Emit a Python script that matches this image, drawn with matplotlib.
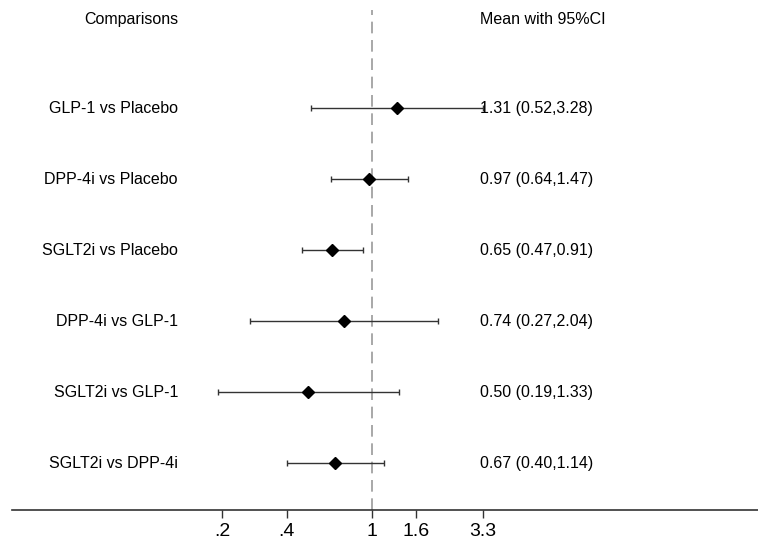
import numpy as np
import matplotlib
matplotlib.use("Agg")
from matplotlib import pyplot as plt

plt.rcParams['font.family'] = ['Liberation Sans', 'DejaVu Sans']

# data
comparisons = ["GLP-1 vs Placebo", "DPP-4i vs Placebo", "SGLT2i vs Placebo",
               "DPP-4i vs GLP-1", "SGLT2i vs GLP-1", "SGLT2i vs DPP-4i"]
means = [1.31, 0.97, 0.65, 0.74, 0.50, 0.67]
lower = [0.52, 0.64, 0.47, 0.27, 0.19, 0.40]
upper = [3.28, 1.47, 0.91, 2.04, 1.33, 1.14]
tick_vals = [0.2, 0.4, 1, 1.6, 3.3]
tick_labels = [".2", ".4", "1", "1.6", "3.3"]

fig = plt.figure(figsize=(7.58, 5.40), dpi=100)
ax = fig.add_axes([12/758, 30/540, 746/758, 500/540])

y = np.arange(len(comparisons))
m = np.array(means)
err = [m - np.array(lower), np.array(upper) - m]

ax.axvline(1, color='#999999', lw=1.2, dashes=(7, 4), zorder=1)
ax.errorbar(m, y, xerr=err, fmt='none', ecolor='#333333', elinewidth=1,
            capsize=2.5, capthick=1, zorder=2)
ax.plot(m, y, 'D', color='black', markersize=6, zorder=3)

ax.set_xscale('log')
ax.set_xlim(0.0208, 63.4)
ax.set_ylim(5.66, -1.38)
ax.set_xticks(tick_vals)
ax.set_xticklabels(tick_labels, fontsize=14)
ax.minorticks_off()
ax.set_yticks([])
ax.tick_params(axis='x', direction='out', length=6, width=1, color='#333333', pad=3)

for s in ['left', 'right', 'top']:
    ax.spines[s].set_visible(False)
ax.spines['bottom'].set_color('#333333')
ax.spines['bottom'].set_linewidth(1.2)

trans = ax.get_yaxis_transform()
lx = (178 - 12) / 746
rx = (480 - 12) / 746
ax.text(lx, -1.24, "Comparisons", transform=trans, ha='right', va='center', fontsize=11.5)
ax.text(rx, -1.24, "Mean with 95%CI", transform=trans, ha='left', va='center', fontsize=11.5)
for i, name in enumerate(comparisons):
    ax.text(lx, i, name, transform=trans, ha='right', va='center', fontsize=11.5)
    ax.text(rx, i, "%.2f (%.2f,%.2f)" % (means[i], lower[i], upper[i]),
            transform=trans, ha='left', va='center', fontsize=11.5)

fig.savefig("out.png", dpi=100)
